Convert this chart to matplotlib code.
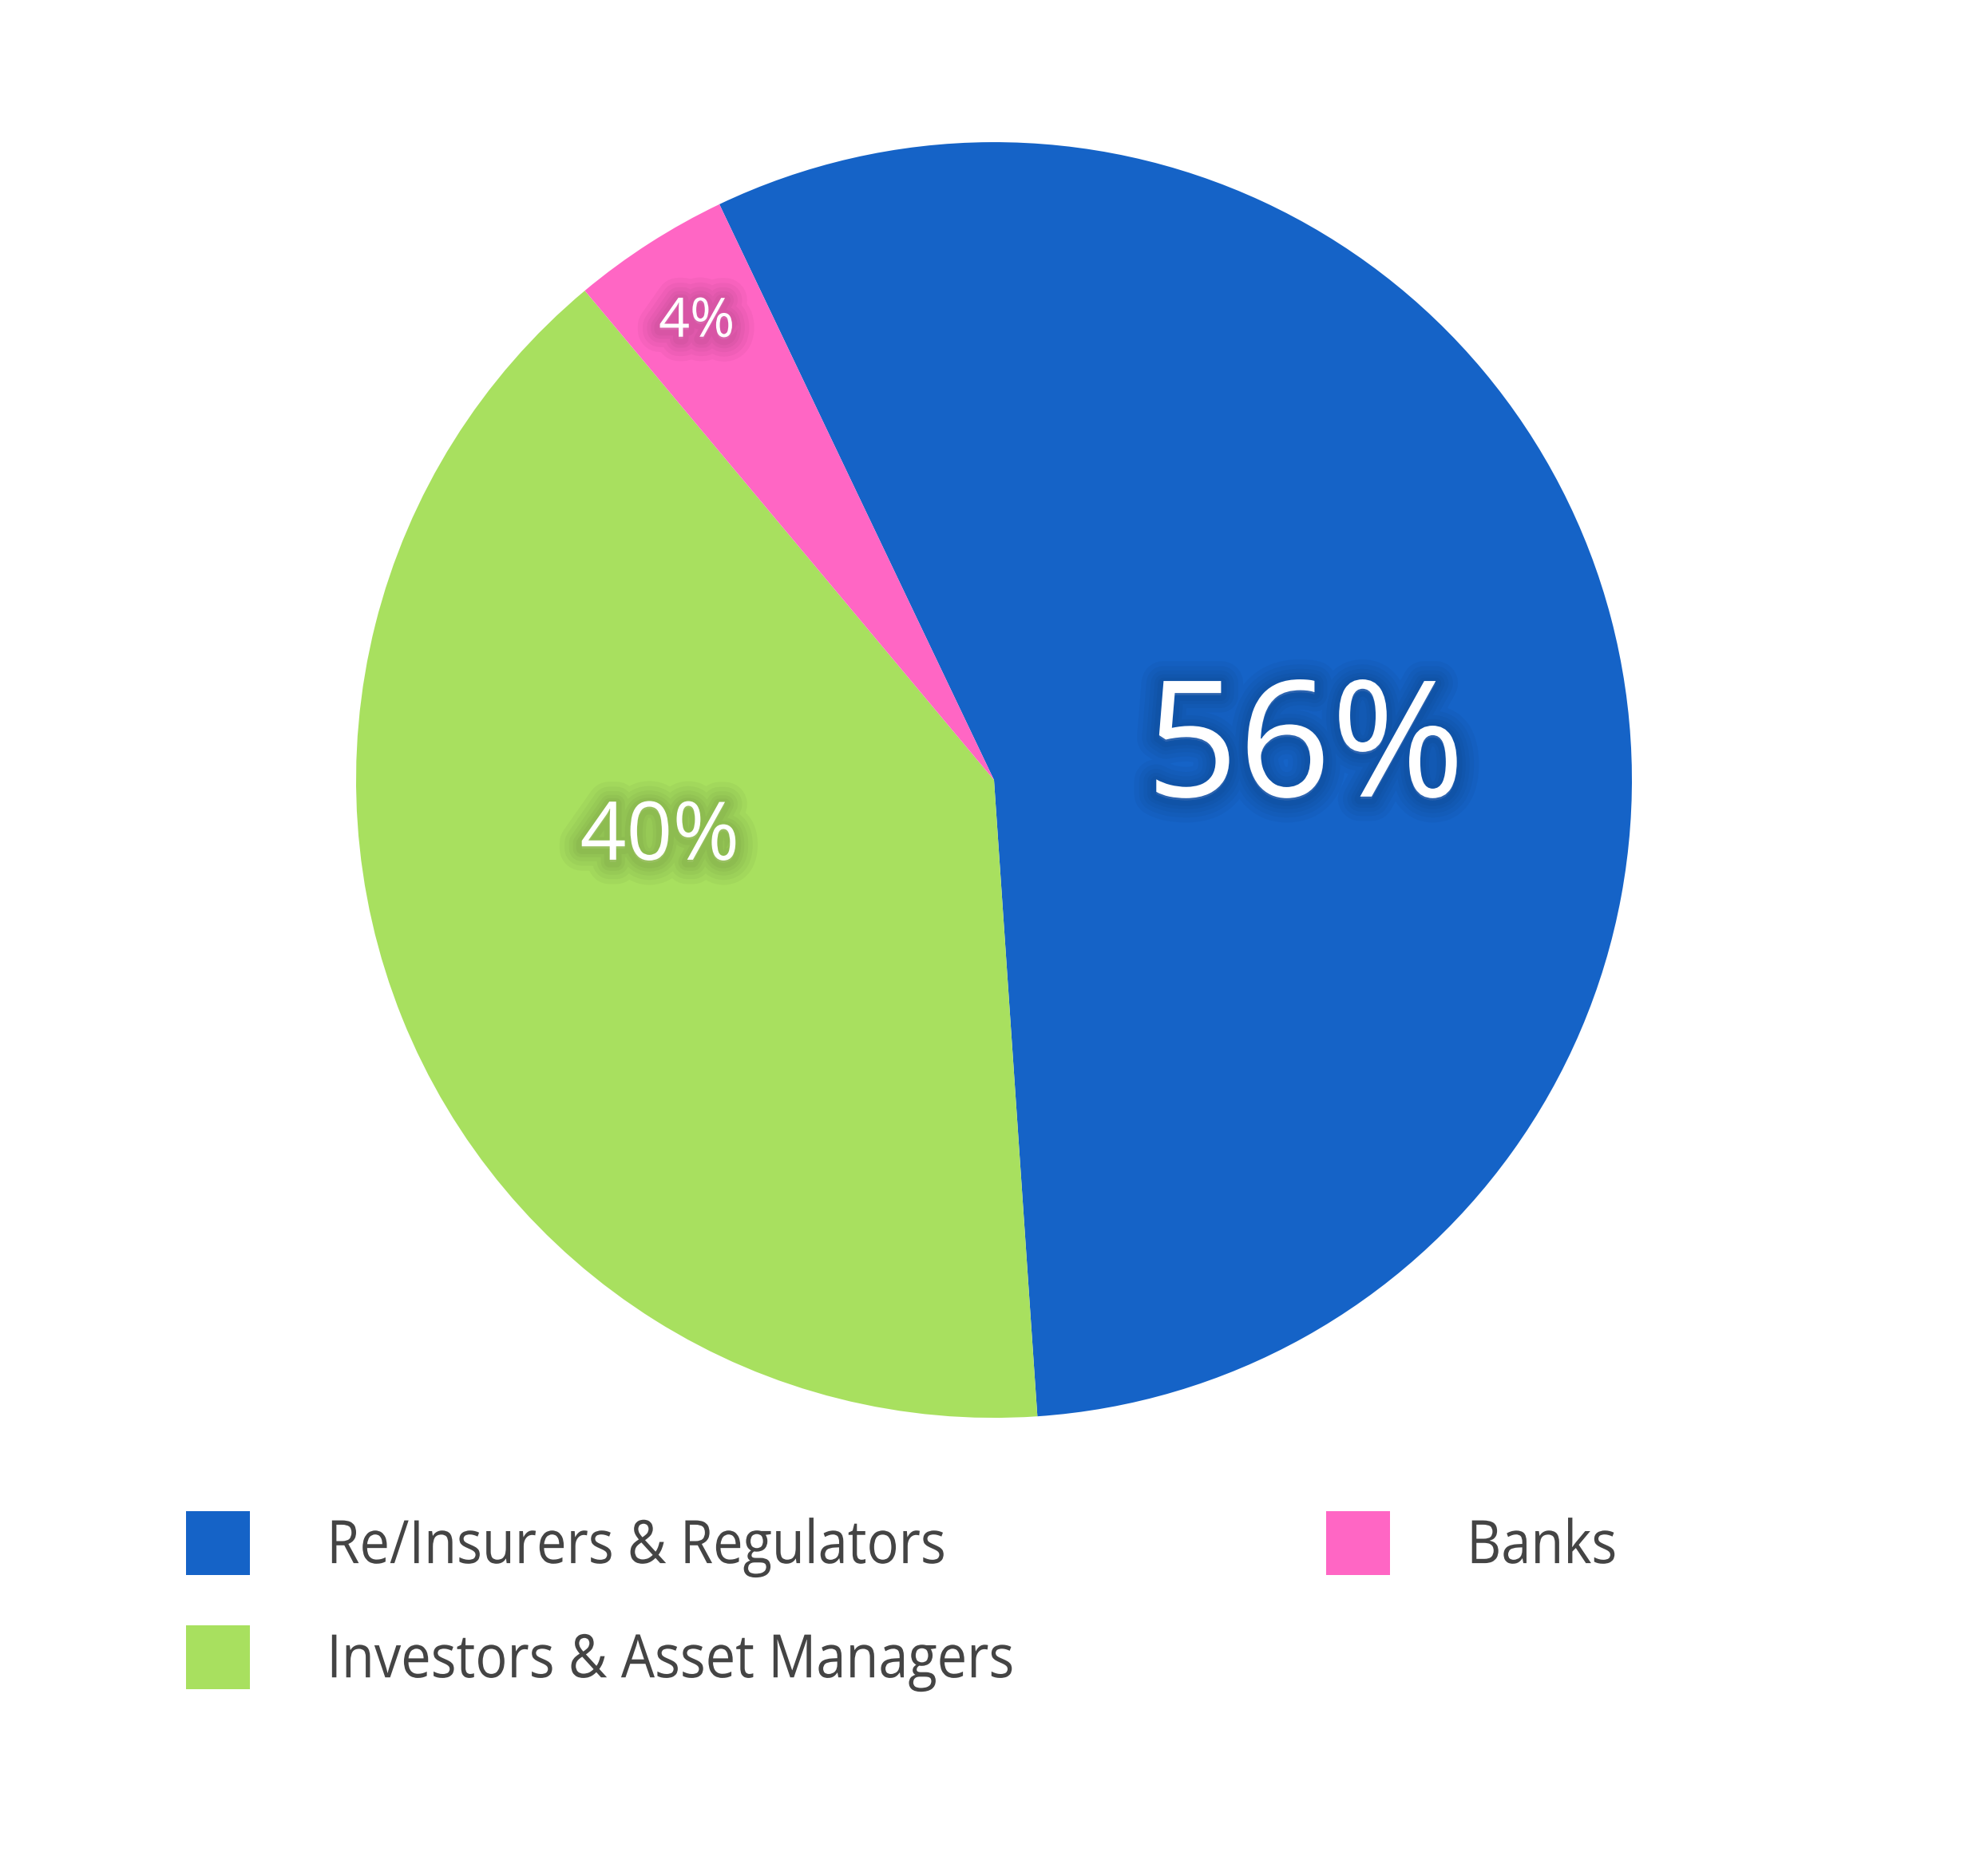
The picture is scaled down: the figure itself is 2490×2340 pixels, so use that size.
import matplotlib.pyplot as plt
import matplotlib.patheffects as pe
from matplotlib.transforms import Affine2D

labels = ['Re/Insurers & Regulators', 'Investors & Asset Managers', 'Banks']
shares = [56, 40, 4]
colors = ['#1563c7', '#a8e05f', '#ff66c4']
# label anchor (x, baseline y) in pie-radius units, and font size in pt
label_pos = [(0.488, -0.026), (-0.524, -0.125), (-0.466, 0.695)]
label_size = [146, 73, 49]

plt.rcParams['font.family'] = ['Open Sans', 'DejaVu Sans']


class XSqueeze(pe.AbstractPathEffect):
    # tighten text horizontally, anchored at its left edge
    def __init__(self, sx):
        super().__init__()
        self.sx = sx

    def draw_path(self, renderer, gc, tpath, affine, rgbFace=None):
        x0 = affine.transform_path(tpath).get_extents().x0
        aff = affine + Affine2D().translate(-x0, 0).scale(self.sx, 1).translate(x0, 0)
        renderer.draw_path(gc, tpath, aff, rgbFace)


fig = plt.figure(figsize=(24.9, 23.4), dpi=100)
ax = fig.add_axes([0.1791, 0.2410, 0.6418, 0.6829])

wedges, texts = ax.pie(shares, colors=colors, startangle=115.5, counterclock=False,
                       radius=1, wedgeprops=dict(linewidth=0))
ax.set_xlim(-1, 1)
ax.set_ylim(-1, 1)
ax.set_aspect('equal')
ax.axis('off')

glow = [pe.Stroke(linewidth=w, foreground='black', alpha=0.03, offset=(0, -2)) for w in (40, 31, 23, 16, 10)]
glow.append(pe.Normal())
for s, (x, y), fs in zip(shares, label_pos, label_size):
    ax.text(x, y, '%d%%' % s, ha='center', va='baseline', fontsize=fs, color='white',
            path_effects=glow)

leg = fig.legend(wedges, labels, ncol=2, loc='upper left',
                 bbox_to_anchor=(233 / 2490, 1 - 1893 / 2340), frameon=False,
                 fontsize=54, labelcolor='#444444', handlelength=1.07, handleheight=1.26,
                 handletextpad=1.27, labelspacing=0.8, columnspacing=3.8,
                 borderpad=0, borderaxespad=0)
for t in leg.get_texts():
    t.set_path_effects([XSqueeze(0.89)])

fig.savefig('out.png', dpi=100, facecolor='white')
